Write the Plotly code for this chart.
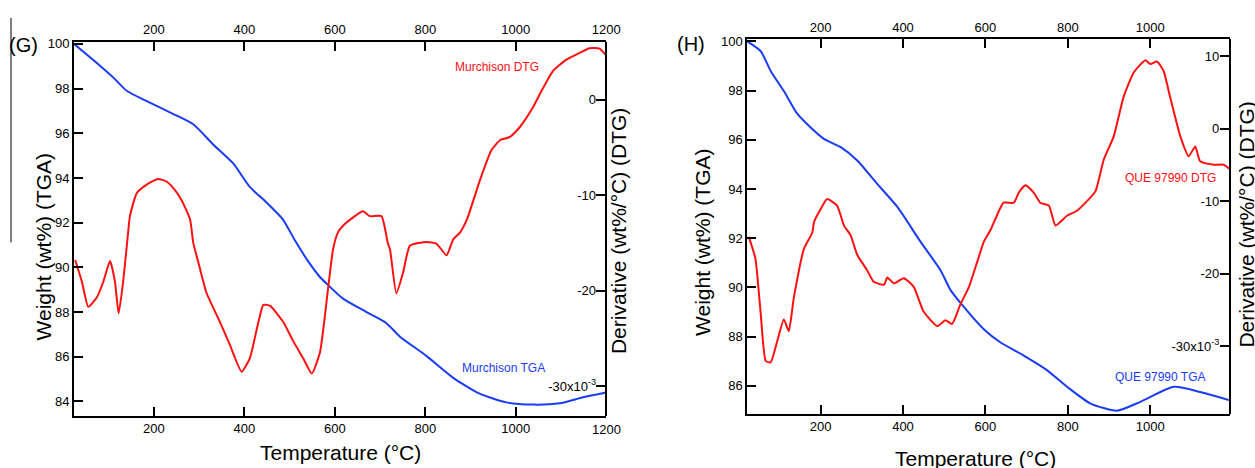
import plotly.graph_objects as go

IMG_W, IMG_H = 1255, 468
FIG_W, FIG_H = 1270, 468   # captured page width is squeezed to the image width

# ---------------- Data: panel G (Murchison) ----------------
g_tga_temp = [23, 82, 110, 140, 198, 242, 287, 331, 375, 412, 449, 485, 512, 540, 567, 582, 618, 670, 714, 744,
              803, 861, 920, 979, 1038, 1097, 1149, 1200]
g_tga_wt = [100.0, 99.0, 98.5, 97.9, 97.3, 96.87, 96.4, 95.5, 94.66, 93.6, 92.9, 92.15, 91.2, 90.3, 89.57, 89.27,
            88.6, 88.0, 87.5, 86.9, 86.03, 85.07, 84.35, 83.96, 83.86, 83.92, 84.19, 84.4]

g_dtg_temp = [26, 41, 55, 74, 88, 103, 114, 122, 132, 143, 147, 162, 184, 209, 228, 243, 261, 280, 287, 298, 316,
              346, 368, 394, 412, 431, 442, 457, 486, 508, 530, 549, 567, 585, 596, 607, 625, 662, 677, 703, 717,
              722, 736, 751, 766, 803, 825, 847, 862, 877, 892, 921, 946, 965, 987, 1009, 1038, 1057, 1082, 1112,
              1141, 1163, 1185, 1198]
g_dtg_val = [-16.8, -19.1, -21.7, -20.7, -19.1, -16.9, -19.1, -22.4, -19.1, -13.9, -12.2, -9.8, -8.9, -8.3, -8.57,
             -9.26, -10.5, -12.55, -15.0, -17.0, -20.2, -23.3, -25.7, -28.5, -27.1, -23.3, -21.5, -21.6, -23.3,
             -25.3, -27.1, -28.7, -26.5, -19.8, -15.7, -13.9, -12.9, -11.7, -12.2, -12.2, -15.0, -15.7, -20.3,
             -18.1, -15.3, -14.9, -15.1, -16.3, -14.6, -13.9, -12.55, -8.4, -5.3, -4.25, -3.9, -2.86, -0.8, 0.93,
             3.0, 4.2, 4.9, 5.4, 5.36, 4.74]

# ---------------- Data: panel H (QUE 97990) ----------------
h_tga_temp = [22, 55, 79, 111, 144, 176, 208, 249, 289, 338, 386, 442, 491, 515, 539, 596, 636, 693, 750, 798,
              855, 919, 976, 1057, 1121, 1191]
h_tga_wt = [100.0, 99.6, 98.8, 97.98, 97.05, 96.5, 96.04, 95.7, 95.16, 94.2, 93.28, 91.87, 90.7, 89.9, 89.38,
            88.3, 87.77, 87.23, 86.63, 85.96, 85.28, 84.99, 85.35, 85.96, 85.75, 85.42]

h_dtg_temp = [26, 42, 55, 67, 79, 95, 111, 123, 135, 160, 180, 184, 200, 216, 240, 257, 273, 289, 313, 329, 354,
              362, 378, 402, 426, 450, 483, 503, 519, 539, 560, 580, 596, 612, 624, 644, 669, 681, 697, 717, 733,
              754, 770, 798, 822, 847, 867, 887, 911, 935, 960, 988, 1000, 1016, 1032, 1048, 1073, 1093, 1109,
              1121, 1154, 1178, 1194]
h_dtg_val = [-14.9, -17.9, -25.6, -32.0, -32.2, -29.25, -26.3, -27.9, -23.35, -16.5, -14.3, -12.9, -11.1, -9.7,
             -10.6, -13.35, -14.7, -17.4, -19.5, -21.1, -21.5, -20.5, -21.3, -20.6, -21.8, -25.2, -27.2, -26.4,
             -26.9, -24.25, -21.8, -18.35, -15.6, -14.0, -12.45, -10.2, -10.2, -8.8, -7.8, -8.8, -10.2, -10.6,
             -13.35, -12.0, -11.3, -9.95, -8.6, -4.28, -1.1, 4.36, 7.77, 9.44, 8.9, 9.26, 7.98, 4.36, -1.1, -3.8,
             -2.45, -4.5, -4.96, -4.96, -5.6]

# tick labels
g_x_ticks = [200, 400, 600, 800, 1000, 1200]
h_x_ticks = [200, 400, 600, 800, 1000]
g_left_ticks = [84, 86, 88, 90, 92, 94, 96, 98, 100]
h_left_ticks = [86, 88, 90, 92, 94, 96, 98, 100]
g_right_ticks = [0, -10, -20, -30]
g_right_text = ["0", "-10", "-20", "-30x10<sup>-3</sup>"]
h_right_ticks = [10, 0, -10, -20, -30]
h_right_text = ["10", "0", "-10", "-20", "-30x10<sup>-3</sup>"]

RED = "#ff1010"
BLUE = "#1a3cf5"
FONT = "Liberation Sans, Arial, sans-serif"


def px(x):
    return x / IMG_W


def py(y):
    return (IMG_H - y) / IMG_H


fig = go.Figure()
fig.add_trace(go.Scatter(x=g_dtg_temp, y=g_dtg_val, xaxis="x", yaxis="y2", mode="lines",
                         line=dict(color=RED, width=2, shape="spline", smoothing=0.5), showlegend=False))
fig.add_trace(go.Scatter(x=g_tga_temp, y=g_tga_wt, xaxis="x", yaxis="y", mode="lines",
                         line=dict(color=BLUE, width=2, shape="spline", smoothing=0.6), showlegend=False))
fig.add_trace(go.Scatter(x=h_dtg_temp, y=h_dtg_val, xaxis="x2", yaxis="y4", mode="lines",
                         line=dict(color=RED, width=2, shape="spline", smoothing=0.5), showlegend=False))
fig.add_trace(go.Scatter(x=h_tga_temp, y=h_tga_wt, xaxis="x2", yaxis="y3", mode="lines",
                         line=dict(color=BLUE, width=2, shape="spline", smoothing=0.6), showlegend=False))

gx = [px(74), px(606)]
gy = [py(415), py(37)]
hx = [px(746.7), px(1228.7)]
hy = [py(413.3), py(34.3)]

g_xr = [23.5, 1200.5]
h_xr = [22.3, 1192.5]

common = dict(showline=True, linecolor="black", linewidth=2, ticks="inside", ticklen=9, tickwidth=2,
              tickcolor="black", showgrid=False, zeroline=False,
              tickfont=dict(family=FONT, size=13, color="black"))

fig.update_layout(
    width=FIG_W, height=FIG_H, margin=dict(l=0, r=0, t=0, b=0),
    paper_bgcolor="white", plot_bgcolor="white", showlegend=False,
    xaxis=dict(domain=gx, range=g_xr, anchor="y", tickvals=g_x_ticks, **common),
    xaxis3=dict(domain=gx, range=g_xr, anchor="y", overlaying="x", side="top", tickvals=g_x_ticks, **common),
    yaxis=dict(domain=gy, range=[83.37, 100.1], anchor="x", tickvals=g_left_ticks, **common),
    yaxis2=dict(domain=gy, range=[-33.1, 6.09], anchor="free", position=gx[1], overlaying="y", side="right",
                tickvals=g_right_ticks, ticktext=g_right_text, ticklabelposition="inside", **common),
    xaxis2=dict(domain=hx, range=h_xr, anchor="y3", tickvals=h_x_ticks, **common),
    xaxis4=dict(domain=hx, range=h_xr, anchor="y3", overlaying="x2", side="top", tickvals=h_x_ticks, **common),
    yaxis3=dict(domain=hy, range=[84.86, 100.1], anchor="x2", tickvals=h_left_ticks, **common),
    yaxis4=dict(domain=hy, range=[-39.3, 12.37], anchor="free", position=hx[1], overlaying="y3", side="right",
                tickvals=h_right_ticks, ticktext=h_right_text, ticklabelposition="inside", **common),
)

# invisible traces to activate top axes
fig.add_trace(go.Scatter(x=[g_xr[0]], y=[90], xaxis="x3", yaxis="y", mode="markers",
                         marker=dict(opacity=0), hoverinfo="skip", showlegend=False))
fig.add_trace(go.Scatter(x=[h_xr[0]], y=[90], xaxis="x4", yaxis="y3", mode="markers",
                         marker=dict(opacity=0), hoverinfo="skip", showlegend=False))


def ann(text, x, y, size, color="black", angle=0):
    fig.add_annotation(text=text, x=px(x), y=py(y), xref="paper", yref="paper", showarrow=False,
                       textangle=angle, font=dict(family=FONT, size=size, color=color),
                       xanchor="center", yanchor="middle")


ann("(G)", 23, 40, 20)
ann("(H)", 690, 39, 20)
ann("Weight (wt%) (TGA)", 43, 245, 21, angle=-90)
ann("Weight (wt%) (TGA)", 702, 240, 21, angle=-90)
ann("Temperature (°C)", 340, 452, 21)
ann("Temperature (°C)", 975, 458, 21)
ann("Derivative (wt%/°C) (DTG)", 618, 228, 21, angle=-90)
ann("Derivative (wt%/°C) (DTG)", 1246, 222, 21, angle=-90)
ann("Murchison DTG", 497, 63, 12, RED)
ann("Murchison TGA", 503, 367, 12, BLUE)
ann("QUE 97990 DTG", 1170, 175, 12, RED)
ann("QUE 97990 TGA", 1160, 376, 12, BLUE)

# bottom "1200" label of panel G (plotly hides the one at the very corner)
fig.add_annotation(text=str(g_x_ticks[-1]), x=g_x_ticks[-1], xref="x", y=py(429.5), yref="paper",
                   showarrow=False, font=dict(family=FONT, size=13, color="black"),
                   xanchor="center", yanchor="middle")

fig.add_shape(type="line", xref="paper", yref="paper", x0=px(11), x1=px(11), y0=py(13), y1=py(240),
              line=dict(color="black", width=1))

fig.write_html(
    "out.html",
    config={"displayModeBar": False},
    post_script="document.body.style.margin='0';document.body.style.overflow='hidden';"
                "document.documentElement.style.overflow='hidden';",
)
